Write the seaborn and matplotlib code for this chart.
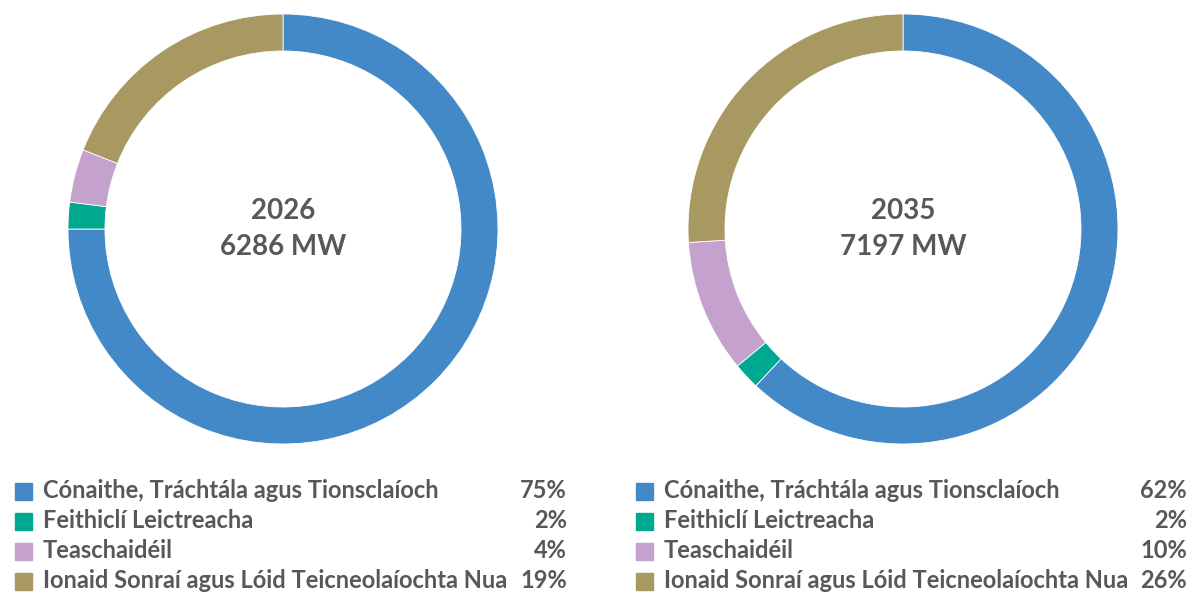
import matplotlib
matplotlib.use("Agg")
import matplotlib.pyplot as plt
import seaborn as sns
from matplotlib.patches import Rectangle

# data
categories = ["Cónaithe, Tráchtála agus Tionsclaíoch", "Feithiclí Leictreacha",
              "Teaschaidéil", "Ionaid Sonraí agus Lóid Teicneolaíochta Nua"]
years = ["2026", "2035"]
totals_mw = [6286, 7197]
shares_2026 = [75, 2, 4, 19]
shares_2035 = [62, 2, 10, 26]
shares = [shares_2026, shares_2035]

sns.set_theme(style="white")
plt.rcParams['font.family'] = ['Lato', 'DejaVu Sans']
colors = sns.color_palette(["#4389c8", "#00a88f", "#c5a2cd", "#a89963"])
text_col = "#57575c"

W, H = 1195, 592
fig = plt.figure(figsize=(W / 100, H / 100), dpi=100)

centers_x = [283, 903]
cy, r = 229, 215
legend_x = [(15, 43, 567), (636, 664, 1187)]
rows_y = [491, 521, 551, 581]

for i in range(2):
    ax = fig.add_axes([(centers_x[i] - r) / W, (H - cy - r) / H, 2 * r / W, 2 * r / H])
    ax.pie(shares[i], colors=colors, startangle=90, counterclock=False, radius=1,
           wedgeprops=dict(width=0.172, edgecolor="white", linewidth=0.6))
    ax.set_xlim(-1, 1)
    ax.set_ylim(-1, 1)
    ax.set_aspect("equal")
    ax.axis("off")
    ax.text(0, 0.085, years[i], ha="center", va="center", fontsize=20,
            fontweight="bold", color=text_col)
    ax.text(0, -0.085, f"{totals_mw[i]} MW", ha="center", va="center", fontsize=20,
            fontweight="bold", color=text_col)

    sq_x, tx, px = legend_x[i]
    for j, cat in enumerate(categories):
        y = rows_y[j]
        fig.patches.append(Rectangle((sq_x / W, (H - y - 8.5) / H), 17 / W, 17 / H,
                                     transform=fig.transFigure, color=colors[j]))
        fig.text(tx / W, (H - y) / H, cat, ha="left", va="center", fontsize=17,
                 fontweight="bold", color=text_col)
        fig.text(px / W, (H - y) / H, f"{shares[i][j]}%", ha="right", va="center",
                 fontsize=17, fontweight="bold", color=text_col)

fig.savefig("out.png", dpi=100, facecolor="white")
